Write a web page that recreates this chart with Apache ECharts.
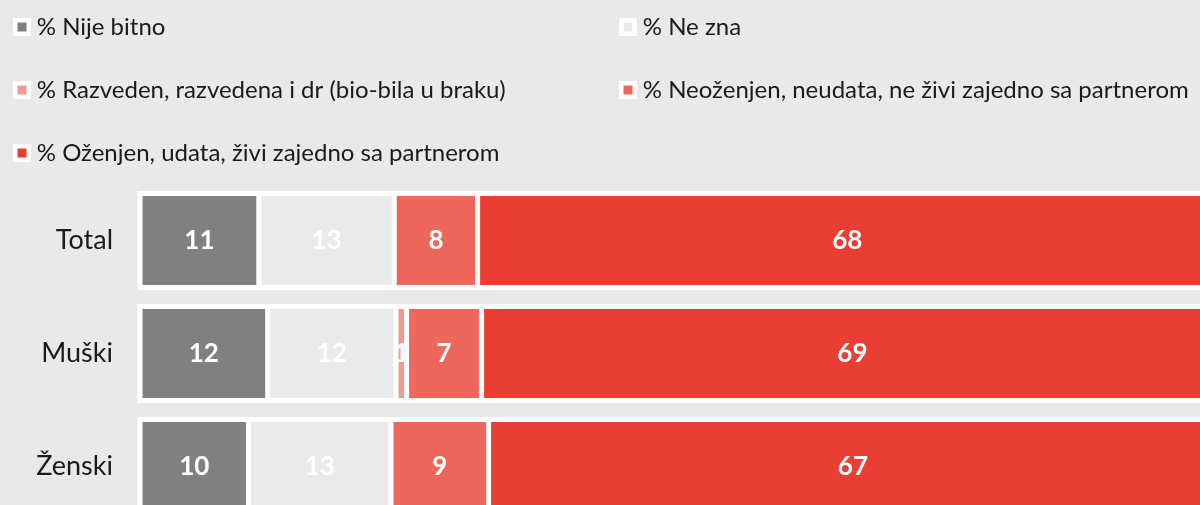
<!DOCTYPE html>
<html>
<head>
<meta charset="utf-8">
<script src="https://cdn.jsdelivr.net/npm/echarts@6/dist/echarts.min.js"></script>
<style>
  html, body { margin: 0; padding: 0; background: #e9e9e9; }
  #chart { width: 1200px; height: 505px; }
</style>
</head>
<body>
<div id="chart"></div>
<script>
// Marital status by gender (percent)
const categories = ['Total', 'Muški', 'Ženski'];

const seriesNames = [
  '% Nije bitno',
  '% Ne zna',
  '% Razveden, razvedena i dr (bio-bila u braku)',
  '% Neoženjen, neudata, ne živi zajedno sa partnerom',
  '% Oženjen, udata, živi zajedno sa partnerom'
];

const nijeBitno  = [10.99, 11.81, 10.03];
const neZna      = [12.53, 11.87, 13.19];
const razveden   = [0, 0.98, 0];
const neozenjen  = [7.71, 6.94, 9.03];
const ozenjen    = [68.4, 68.6, 67.4];

const colors = ['#808080', '#eaeaea', '#f39a92', '#ee675c', '#e83e33'];
const values = [nijeBitno, neZna, razveden, neozenjen, ozenjen];

const FONT = 'Lato, "Noto Sans", sans-serif';

const chart = echarts.init(document.getElementById('chart'));

const legendBase = {
  orient: 'vertical',
  icon: 'rect',
  itemWidth: 13.5,
  itemHeight: 13.5,
  itemGap: 37,
  selectedMode: false,
  itemStyle: { borderColor: '#ffffff', borderWidth: 4.5 },
  textStyle: { fontFamily: FONT, fontSize: 24, color: '#1a1a1a', lineHeight: 26, padding: [0, 0, 0, 3] }
};

chart.setOption({
  backgroundColor: '#e9e9e9',
  animation: false,
  color: colors,
  legend: [
    Object.assign({}, legendBase, {
      left: 8, top: 9,
      data: [seriesNames[0], seriesNames[2], seriesNames[4]]
    }),
    Object.assign({}, legendBase, {
      left: 614, top: 9,
      data: [seriesNames[1], seriesNames[3]]
    })
  ],
  grid: {
    left: 140, right: -21, top: 184, bottom: -18,
    containLabel: false,
    outerBoundsMode: 'none'
  },
  xAxis: {
    type: 'value',
    min: 0,
    max: 100,
    show: false
  },
  yAxis: {
    type: 'category',
    data: categories,
    inverse: true,
    axisLine: { show: false },
    axisTick: { show: false },
    axisLabel: { fontFamily: FONT, fontSize: 27, color: '#1a1a1a', margin: 27 }
  },
  series: seriesNames.map((name, i) => ({
    name: name,
    type: 'bar',
    stack: 'total',
    barCategoryGap: '16.8%',
    clip: false,
    data: values[i],
    // white frame around each whole bar
    showBackground: i === 0,
    backgroundStyle: { color: '#ffffff', borderColor: '#ffffff', borderWidth: 5 },
    itemStyle: { color: colors[i], borderColor: '#ffffff', borderWidth: 2.5 },
    label: {
      show: true,
      position: 'inside',
      color: '#ffffff',
      fontFamily: FONT,
      fontWeight: 'bold',
      fontSize: 26,
      formatter: p => (p.value > 0 ? Math.round(p.value) : '')
    }
  }))
});
</script>
</body>
</html>
